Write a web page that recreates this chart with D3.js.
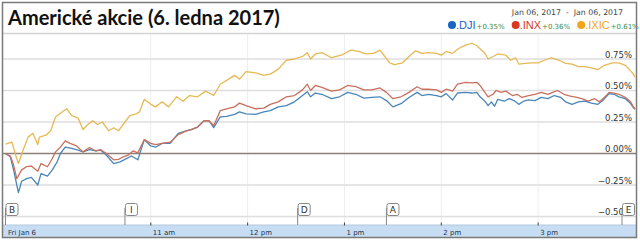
<!DOCTYPE html>
<html>
<head>
<meta charset="utf-8">
<script src="https://d3js.org/d3.v7.min.js"></script>
<style>
  body { margin: 0; background: #fff; }
  svg { display: block; }
</style>
</head>
<body>
<script>
// minutes since 9:30, value in %
var djiData = [[0,0],[3,-0.026],[5,-0.13],[8,-0.31],[10,-0.22],[13,-0.20],[16,-0.19],[20,-0.25],[22,-0.16],[26,-0.18],[29,-0.13],[32,-0.066],[34,0],[37,0.05],[41,0.04],[45,0.026],[48,0.013],[52,0.03],[56,0.02],[59,0.026],[63,-0.02],[67,-0.08],[71,-0.066],[74,-0.047],[78,-0.02],[82,-0.05],[86,0.11],[90,0.06],[93,0.05],
  [97,0.08],[102,0.08],[107,0.16],[112,0.18],[115,0.19],[119,0.21],[123,0.26],[126,0.26],[129,0.205],[133,0.29],[137,0.295],[142,0.31],[145,0.33],[149,0.315],[155,0.31],[160,0.33],[164,0.34],[169,0.37],[174,0.38],[179,0.41],[184,0.46],[187,0.49],[189,0.45],[192,0.48],
  [196,0.47],[202,0.435],[207,0.45],[212,0.485],[217,0.47],[222,0.44],[227,0.445],[232,0.45],[236,0.42],[240,0.37],[245,0.395],[250,0.445],[255,0.485],[258,0.46],[262,0.47],[267,0.46],[270,0.45],[273,0.475],[277,0.425],[280,0.48],[285,0.485],[289,0.48],[292,0.485],
  [294,0.45],[297,0.415],[299,0.38],[301,0.41],[303,0.375],[305,0.43],[309,0.415],[312,0.435],[315,0.42],[318,0.39],[321,0.415],[324,0.425],[328,0.42],[332,0.445],[336,0.435],[340,0.46],[344,0.445],[347,0.41],[351,0.39],[355,0.41],[359,0.415],[363,0.40],[367,0.39],[370,0.42],[374,0.475],[377,0.47],[380,0.45],[384,0.435],[387,0.40],[389,0.365],[390,0.35]];

var inxData = [[0,0],[3,-0.02],[5,-0.09],[7,-0.20],[10,-0.13],[13,-0.105],[16,-0.10],[20,-0.14],[22,-0.08],[26,-0.105],[29,-0.04],[31,0.013],[34,0.05],[37,0.10],[40,0.08],[44,0.06],[48,0.013],[52,0.047],[56,0.02],[59,0.03],[63,-0.005],[67,-0.05],[70,-0.047],[73,-0.026],[76,-0.013],[79,0.02],[82,0.005],[86,0.11],[90,0.08],[93,0.07],
  [97,0.08],[102,0.09],[107,0.15],[112,0.18],[115,0.19],[119,0.21],[123,0.26],[126,0.26],[129,0.22],[133,0.34],[137,0.355],[142,0.37],[145,0.40],[149,0.38],[155,0.355],[160,0.36],[164,0.39],[169,0.41],[174,0.45],[179,0.46],[184,0.505],[187,0.55],[189,0.50],[192,0.54],
  [196,0.525],[202,0.495],[207,0.505],[212,0.54],[217,0.53],[222,0.505],[227,0.505],[232,0.52],[236,0.485],[240,0.435],[245,0.45],[250,0.485],[255,0.53],[258,0.51],[262,0.51],[267,0.505],[270,0.485],[273,0.51],[277,0.495],[280,0.55],[285,0.565],[289,0.56],[292,0.565],
  [294,0.54],[297,0.485],[299,0.45],[302,0.47],[304,0.50],[307,0.485],[310,0.495],[314,0.46],[317,0.47],[320,0.445],[324,0.46],[328,0.47],[332,0.485],[336,0.47],[339,0.485],[342,0.50],[346,0.47],[350,0.455],[354,0.445],[357,0.435],[361,0.415],[365,0.435],[368,0.41],[371,0.445],[374,0.485],[377,0.48],[380,0.47],[384,0.445],[387,0.415],[389,0.37],[390,0.355]];

var ixicData = [[0,0.074],[4,0.09],[6,0],[8,-0.08],[11,0.03],[14,0.13],[17,0.16],[20,0.07],[21,0.13],[25,0.145],[28,0.18],[31,0.29],[35,0.33],[38,0.355],[41,0.30],[45,0.28],[48,0.19],[51,0.23],[54,0.26],[57,0.23],[60,0.25],[64,0.18],[67,0.205],[70,0.18],[74,0.25],[77,0.30],[81,0.315],[83,0.33],[86,0.43],[90,0.39],[93,0.37],
  [97,0.41],[101,0.37],[106,0.45],[110,0.415],[114,0.46],[119,0.45],[124,0.495],[129,0.46],[133,0.55],[137,0.58],[142,0.62],[145,0.59],[149,0.65],[155,0.64],[160,0.62],[164,0.63],[169,0.67],[174,0.74],[179,0.75],[184,0.77],[187,0.80],[189,0.75],[192,0.79],
  [196,0.80],[202,0.76],[208,0.78],[214,0.82],[219,0.81],[223,0.79],[228,0.795],[232,0.82],[235,0.77],[238,0.72],[241,0.705],[246,0.72],[250,0.77],[254,0.815],[258,0.795],[262,0.80],[267,0.795],[270,0.78],[273,0.81],[277,0.795],[281,0.835],[285,0.86],[289,0.875],
  [292,0.855],[297,0.795],[299,0.75],[302,0.77],[305,0.79],[310,0.78],[313,0.74],[316,0.76],[318,0.71],[322,0.715],[326,0.72],[330,0.72],[334,0.74],[338,0.76],[343,0.74],[347,0.715],[351,0.71],[355,0.69],[359,0.69],[363,0.68],[367,0.665],[371,0.70],[376,0.72],[380,0.72],[384,0.70],[387,0.66],[389,0.63],[390,0.605]];

var seriesNames = ['.DJI', '.INX', '.IXIC'];
var seriesChange = ['+0.35%', '+0.36%', '+0.61%'];
var yTicks = [-0.5, -0.25, 0, 0.25, 0.5, 0.75];
var hourTicks = [90, 150, 210, 270, 330];      // 11am .. 3pm
var hourLabels = ['11 am', '12 pm', '1 pm', '2 pm', '3 pm'];
var flagLetters = ['B', 'I', 'D', 'A', 'E'];
var flagTimes = [0, 74, 181, 236, 382];

var w = 640, h = 240;
var lineColors = ['#4a86b8', '#c8705e', '#e6b955'];
var dotColors = ['#1763c6', '#d8391f', '#f2a41c'];

var svg = d3.select('body').append('svg').attr('width', w).attr('height', h);

var x = d3.scaleLinear().domain([0, 390]).range([5.5, 635]);
var y = d3.scaleLinear().domain([-0.5, 0.75]).range([216.5, 59]);

// header separator
svg.append('line').attr('x1', 3).attr('x2', 636).attr('y1', 33.5).attr('y2', 33.5)
   .attr('stroke', '#d4d4d4').attr('stroke-width', 1.5);

// vertical grid
svg.selectAll('line.vgrid').data(hourTicks).enter().append('line')
   .attr('class', 'vgrid')
   .attr('x1', function(d) { return x(d); }).attr('x2', function(d) { return x(d); })
   .attr('y1', 34).attr('y2', 225)
   .attr('stroke', '#eeeeee').attr('stroke-width', 1);

// horizontal grid
svg.selectAll('line.hgrid').data(yTicks).enter().append('line')
   .attr('class', 'hgrid')
   .attr('x1', 3).attr('x2', 636)
   .attr('y1', function(d) { return y(d); }).attr('y2', function(d) { return y(d); })
   .attr('stroke', function(d) { return d === 0 ? '#8c7f78' : '#dedede'; })
   .attr('stroke-width', 1.5);

// y labels
svg.selectAll('text.ylab').data(yTicks).enter().append('text')
   .attr('class', 'ylab')
   .attr('x', 632).attr('y', function(d) { return y(d) - 1.5; })
   .attr('text-anchor', 'end')
   .style('font-family', 'DejaVu Sans').style('font-size', '8.5px').style('fill', '#333')
   .text(function(d) { return d3.format('.2f')(d) + '%'; });

// lines
var line = d3.line().x(function(d) { return x(d[0]); }).y(function(d) { return y(d[1]); });
[djiData, inxData, ixicData].forEach(function(s, i) {
  svg.append('path').datum(s)
     .attr('fill', 'none').attr('stroke', lineColors[i]).attr('stroke-width', 1.3)
     .attr('stroke-linejoin', 'round')
     .attr('d', line);
});

// bottom band
svg.append('rect').attr('x', 3).attr('y', 225).attr('width', 633).attr('height', 12)
   .attr('fill', '#c6ddf3');
svg.append('line').attr('x1', 3).attr('x2', 636).attr('y1', 225).attr('y2', 225)
   .attr('stroke', '#b5c9dd').attr('stroke-width', 1);
svg.selectAll('line.tick').data(hourTicks).enter().append('line')
   .attr('class', 'tick')
   .attr('x1', function(d) { return x(d); }).attr('x2', function(d) { return x(d); })
   .attr('y1', 222.5).attr('y2', 225.5)
   .attr('stroke', '#444').attr('stroke-width', 1);
svg.selectAll('text.xlab').data(hourTicks).enter().append('text')
   .attr('class', 'xlab')
   .attr('x', function(d) { return x(d) + 2; }).attr('y', 234.5)
   .style('font-family', 'DejaVu Sans').style('font-size', '7px').style('fill', '#22334a')
   .text(function(d, i) { return hourLabels[i]; });
svg.append('text').attr('x', 8).attr('y', 234.5)
   .style('font-family', 'DejaVu Sans').style('font-size', '7px').style('fill', '#22334a')
   .text('Fri Jan 6');

// flags
var flags = svg.selectAll('g.flag').data(flagLetters).enter().append('g')
   .attr('class', 'flag')
   .attr('transform', function(d, i) {
      var fx = Math.min(x(flagTimes[i]), 622);
      return 'translate(' + fx + ',0)';
   });
flags.append('line').attr('x1', 0).attr('x2', 0).attr('y1', 208).attr('y2', 225)
   .attr('stroke', '#888').attr('stroke-width', 1);
flags.append('rect').attr('x', 0.5).attr('y', 203.5).attr('width', 12).attr('height', 12)
   .attr('rx', 2).attr('fill', '#fff').attr('stroke', '#888').attr('stroke-width', 1);
flags.append('text').attr('x', 6.5).attr('y', 213)
   .attr('text-anchor', 'middle')
   .style('font-family', 'DejaVu Sans').style('font-size', '9px').style('fill', '#333')
   .text(function(d) { return d; });

// title
var title = svg.append('text').attr('x', 8).attr('y', 25)
   .style('font-family', 'Lato').style('font-weight', 'bold').style('font-size', '20px')
   .style('fill', '#111')
   .text('Americké akcie (6. ledna 2017)');
var tl = title.node().getComputedTextLength();
title.style('font-size', (20 * 272 / tl) + 'px');

// date range
svg.append('text').attr('x', 623).attr('y', 15).attr('text-anchor', 'end')
   .style('font-family', 'DejaVu Sans').style('font-size', '7.8px').style('fill', '#444')
   .attr('xml:space', 'preserve')
   .text('Jan 06, 2017  -  Jan 06, 2017');

// legend
var lx = 448;
seriesNames.forEach(function(name, i) {
  svg.append('circle').attr('cx', lx + 4).attr('cy', 25).attr('r', 4).attr('fill', dotColors[i]);
  var t1 = svg.append('text').attr('x', lx + 8).attr('y', 29)
     .style('font-family', 'Liberation Sans').style('font-size', '11px').style('fill', dotColors[i])
     .text(name);
  var w1 = t1.node().getComputedTextLength();
  var t2 = svg.append('text').attr('x', lx + 9 + w1).attr('y', 29)
     .style('font-family', 'DejaVu Sans').style('font-size', '7px').style('fill', '#3d8a3d')
     .text(seriesChange[i]);
  var w2 = t2.node().getComputedTextLength();
  lx = lx + 9 + w1 + w2 + 7;
});

// outer frame
svg.append('rect').attr('x', 2.5).attr('y', 2.5).attr('width', 634).attr('height', 235)
   .attr('fill', 'none').attr('stroke', '#7a7a7a').attr('stroke-width', 1.5);
</script>
</body>
</html>
